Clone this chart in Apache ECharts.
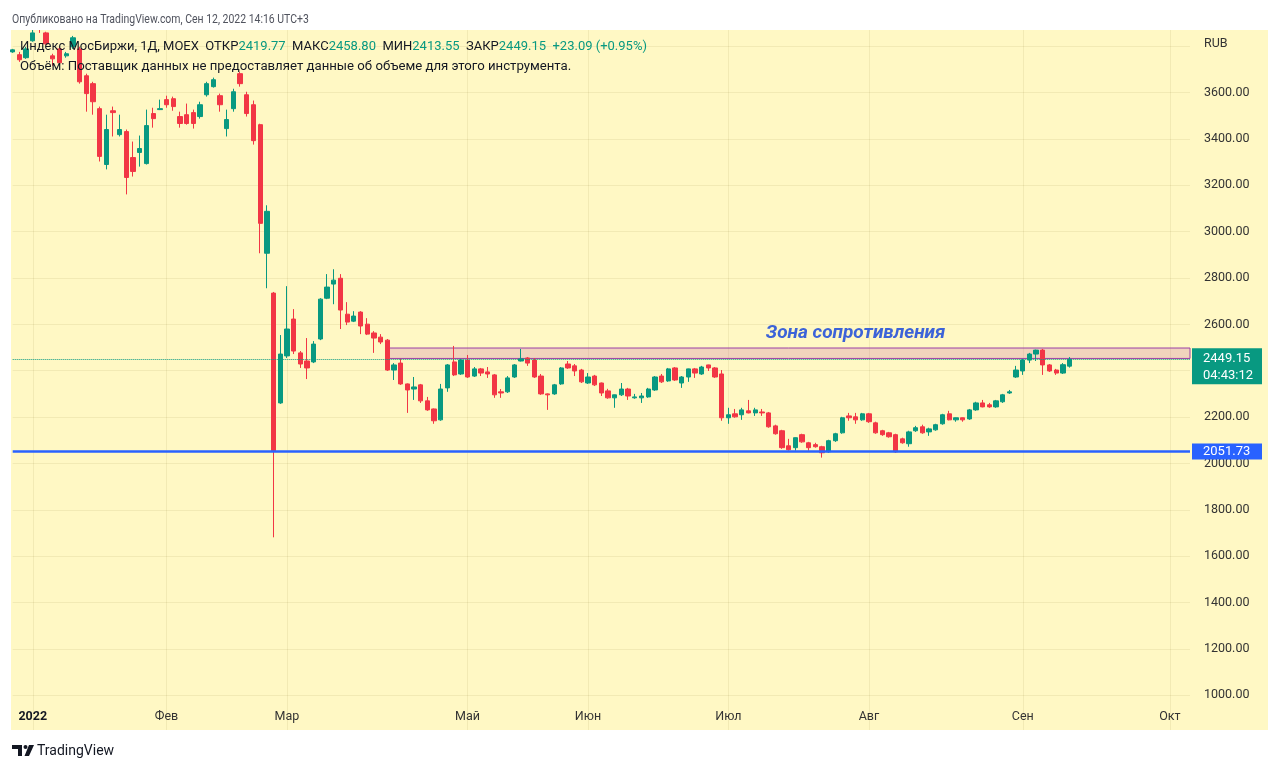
<!DOCTYPE html>
<html><head><meta charset="utf-8">
<script src="https://cdn.jsdelivr.net/npm/echarts@6/dist/echarts.min.js"></script>
<style>html,body{margin:0;padding:0;background:#fff}#c{width:1280px;height:770px}</style>
</head><body><div id="c"></div>
<script>
// ---- trading days (category axis) ----
const dec21 = [28,29,30];
const jan22 = [3,4,5,6,10,11,12,13,14,17,18,19,20,21,24,25,26,27,28,31];
const feb22 = [1,2,3,4,7,8,9,10,11,14,15,16,17,18,21,22,24,25];
const mar22 = [24,25,28,29,30,31];
const apr22 = [1,4,5,6,7,8,11,12,13,14,15,18,19,20,21,22,25,26,27,28,29];
const may22 = [4,5,6,11,12,13,16,17,18,19,20,23,24,25,26,27,30,31];
const jun22 = [1,2,3,6,7,8,9,10,14,15,16,17,20,21,22,23,24,27,28,29,30];
const jul22 = [1,4,5,6,7,8,11,12,13,14,15,18,19,20,21,22,25,26,27,28,29];
const aug22 = [1,2,3,4,5,8,9,10,11,12,15,16,17,18,19,22,23,24,25,26,29,30,31];
const sep22 = [1,2,5,6,7,8,9,12,13,14,15,16,19,20,21,22,23,26,27,28,29,30];
const oct22 = [3,4,5,6];

// ---- x tick labels ----
const tickDates = ['2022-01-03','2022-02-01','2022-03-24','2022-05-04','2022-06-01','2022-07-01','2022-08-01','2022-09-01','2022-10-03'];
const tickLabels = ['2022','Фев','Мар','Май','Июн','Июл','Авг','Сен','Окт'];

// ---- OHLC: [open, close, low, high] ----
const ohlc = [
[3776,3785,3772,3789],[3764,3742,3733,3776],[3751,3789,3746,3798],[3824,3858,3820,3875],[3905,3880,3858,3920],
[3858,3811,3807,3863],[3759,3746,3716,3768],[3789,3729,3721,3798],[3759,3768,3751,3776],[3798,3837,3789,3845],
[3789,3647,3639,3798],[3673,3596,3518,3682],[3639,3561,3505,3647],[3531,3325,3303,3540],[3290,3441,3269,3505],
[3522,3514,3411,3540],[3419,3441,3411,3505],[3432,3234,3161,3441],[3320,3260,3238,3389],[3342,3359,3281,3415],
[3294,3458,3290,3527],[3510,3488,3449,3535],[3527,3531,3525,3570],[3570,3548,3535,3587],[3574,3540,3522,3583],
[3497,3467,3449,3518],[3505,3467,3462,3553],[3514,3467,3445,3527],[3497,3548,3488,3561],[3591,3639,3583,3647],
[3626,3656,3622,3665],[3587,3548,3518,3596],[3445,3484,3411,3527],[3531,3604,3518,3617],[3682,3639,3626,3690],
[3591,3510,3497,3604],[3548,3393,3376,3566],[3462,3036,2907,3466],[2907,3088,2756,3114],[2735,2055,1681,2740],
[2261,2472,2257,2554],[2464,2580,2455,2765],[2623,2485,2472,2666],[2477,2429,2412,2485],[2442,2412,2364,2541],
[2438,2515,2433,2528],[2537,2709,2532,2713],[2713,2761,2709,2817],[2774,2791,2687,2838],[2799,2662,2580,2817],
[2644,2610,2597,2696],[2614,2636,2610,2657],[2653,2593,2558,2657],[2601,2558,2554,2627],[2563,2541,2477,2571],
[2545,2524,2515,2558],[2532,2403,2399,2537],[2403,2425,2360,2433],[2433,2343,2339,2451],[2343,2317,2218,2345],
[2321,2330,2274,2373],[2339,2270,2261,2343],[2270,2231,2227,2287],[2235,2184,2171,2237],[2188,2321,2184,2343],
[2326,2425,2309,2429],[2438,2382,2377,2507],[2386,2446,2382,2451],[2446,2373,2369,2468],[2377,2408,2373,2416],
[2408,2390,2377,2412],[2395,2386,2369,2416],[2382,2296,2283,2386],[2309,2304,2283,2321],[2309,2369,2304,2377],
[2373,2425,2369,2429],[2442,2451,2440,2494],[2455,2433,2421,2459],[2446,2373,2369,2455],[2377,2300,2296,2386],
[2300,2296,2231,2302],[2300,2339,2296,2343],[2343,2412,2339,2416],[2429,2412,2408,2442],[2421,2399,2377,2429],
[2403,2352,2347,2408],[2347,2373,2343,2390],[2377,2339,2334,2382],[2347,2304,2291,2349],[2313,2283,2279,2322],
[2283,2296,2240,2297],[2296,2321,2291,2347],[2321,2291,2274,2326],[2283,2287,2279,2300],[2283,2291,2261,2304],
[2287,2321,2283,2326],[2317,2373,2313,2377],[2377,2352,2347,2386],[2356,2408,2352,2412],[2412,2360,2356,2416],
[2347,2373,2326,2377],[2373,2408,2352,2409],[2408,2390,2369,2412],[2386,2416,2382,2421],[2425,2412,2399,2426],
[2412,2373,2369,2416],[2386,2197,2184,2403],[2197,2210,2171,2240],[2214,2201,2197,2235],[2210,2231,2188,2240],
[2227,2218,2216,2274],[2218,2231,2205,2240],[2222,2218,2205,2235],[2218,2158,2154,2222],[2162,2128,2124,2167],
[2141,2068,2063,2145],[2076,2059,2055,2106],[2068,2111,2055,2112],[2124,2093,2089,2128],[2089,2068,2055,2093],
[2081,2072,2068,2089],[2072,2046,2025,2076],[2050,2098,2046,2102],[2098,2128,2093,2132],[2132,2197,2128,2201],
[2205,2197,2184,2218],[2201,2188,2171,2218],[2188,2214,2184,2218],[2214,2180,2175,2218],[2175,2132,2128,2180],
[2141,2124,2119,2145],[2132,2115,2111,2136],[2124,2050,2046,2128],[2106,2089,2085,2111],[2085,2136,2072,2141],
[2141,2154,2136,2162],[2158,2132,2128,2167],[2136,2149,2119,2154],[2145,2167,2141,2171],[2171,2210,2167,2214],
[2214,2188,2186,2227],[2188,2197,2180,2198],[2197,2188,2180,2198],[2192,2231,2188,2235],[2231,2261,2227,2266],
[2261,2244,2242,2274],[2253,2244,2240,2261],[2244,2270,2240,2274],[2266,2296,2261,2300],[2304,2309,2300,2317],
[2373,2403,2369,2421],[2399,2446,2382,2451],[2446,2472,2433,2477],[2472,2489,2442,2491],[2489,2425,2382,2494],
[2425,2399,2395,2429],[2403,2390,2382,2408],[2390,2426.06,2386,2433],[2419.77,2449.15,2413.55,2458.80]
];

// ---- levels ----
const supportLevel = 2051.73;
const zoneLow = 2453, zoneHigh = 2498;
const zoneStartDate = '2022-04-14';
const zoneTextDate = '2022-07-28', zoneTextValue = 2562;
const zoneText = 'Зона сопротивления';
const lastBar = ohlc[ohlc.length - 1];
const countdown = '04:43:12';

const monthList = [['2021-12',dec21],['2022-01',jan22],['2022-02',feb22],['2022-03',mar22],['2022-04',apr22],['2022-05',may22],['2022-06',jun22],['2022-07',jul22],['2022-08',aug22],['2022-09',sep22],['2022-10',oct22]];
const dates = [];
monthList.forEach(([m, days]) => days.forEach(d => dates.push(m + '-' + String(d).padStart(2, '0'))));

const UP = '#089981', DOWN = '#f23645', BG = '#fff8c4', GRIDC = 'rgba(90,80,0,0.08)';
const FONT = 'Roboto, "Noto Sans", sans-serif';
const isTick = (i, v) => tickDates.indexOf(v) >= 0;

const chart = echarts.init(document.getElementById('c'), null, {renderer: 'canvas'});

const baseGraphic = [
  {id:'panel', type:'rect', z:-10, shape:{x:11, y:30, width:1257, height:700}, style:{fill:BG}},
  {id:'topcover', type:'rect', z:100, shape:{x:0, y:0, width:1280, height:30}, style:{fill:'#ffffff'}},
  {id:'botcover', type:'rect', z:100, shape:{x:0, y:730, width:1280, height:40}, style:{fill:'#ffffff'}},
  {id:'hdr', type:'text', z:101, x:12, y:20, scaleX:0.775, style:{text:'Опубликовано на TradingView.com, Сен 12, 2022 14:16 UTC+3', fill:'#50535e', font:'13.5px ' + FONT, verticalAlign:'middle'}},
  {id:'legend1', type:'text', z:60, x:20, y:47, style:{
    text:'{t|Индекс МосБиржи, 1Д, MOEX  ОТКР}{v|2419.77}{t|  МАКС}{v|2458.80}{t|  МИН}{v|2413.55}{t|  ЗАКР}{v|2449.15}{v|  +23.09 (+0.95%)}',
    verticalAlign:'middle', font:'13px ' + FONT,
    rich:{t:{fill:'#131722', font:'13px ' + FONT}, v:{fill:UP, font:'13px ' + FONT}}}},
  {id:'legend2', type:'text', z:60, x:20, y:67, style:{text:'Объём: Поставщик данных не предоставляет данные об объеме для этого инструмента.', fill:'#131722', font:'13.2px ' + FONT, verticalAlign:'middle'}},
  {id:'rub', type:'text', z:60, x:1204, y:44, style:{text:'RUB', fill:'#333', font:'12.5px ' + FONT, verticalAlign:'middle'}},
  {id:'logo1', type:'polygon', z:101, shape:{points:[[12,745],[22,745],[22,756],[18,756],[18,749],[12,749]]}, style:{fill:'#131722'}},
  {id:'logo2', type:'circle', z:101, shape:{cx:25.5, cy:747, r:2}, style:{fill:'#131722'}},
  {id:'logo3', type:'polygon', z:101, shape:{points:[[29,745],[34,745],[29,756],[24.5,756]]}, style:{fill:'#131722'}},
  {id:'logotxt', type:'text', z:101, x:37, y:751, style:{text:'TradingView', fill:'#131722', font:'14px ' + FONT, verticalAlign:'middle'}}
];

const option = {
  backgroundColor: '#ffffff',
  animation: false,
  grid: {left: 12.7, right: 90, top: -1.93, bottom: 28.54, containLabel: false},
  xAxis: {
    type: 'category', data: dates, boundaryGap: false, offset: -39.5,
    axisLine: {show: false}, axisTick: {show: false},
    axisLabel: {interval: isTick, margin: 8, color: '#333', fontSize: 12.5, fontFamily: FONT,
      formatter: (v) => { const k = tickDates.indexOf(v); if (k < 0) return ''; return k === 0 ? '{b|' + tickLabels[k] + '}' : tickLabels[k]; },
      rich: {b: {fontWeight: 'bold', color: '#131722', fontSize: 12.5, fontFamily: FONT}}},
    splitLine: {show: true, interval: isTick, lineStyle: {color: GRIDC, width: 1}}
  },
  yAxis: {
    type: 'value', position: 'right', min: 800, max: 4000, interval: 200, scale: false,
    axisLine: {show: false}, axisTick: {show: false},
    axisLabel: {margin: 14, color: '#333', fontSize: 12.5, fontFamily: FONT,
      formatter: (v) => (v >= 3800 || v < 1000 || v === 2400) ? '' : v.toFixed(2)},
    splitLine: {show: true, lineStyle: {color: GRIDC, width: 1}}
  },
  series: [{
    type: 'candlestick', data: ohlc, barWidth: 4.8, clip: true,
    itemStyle: {color: UP, color0: DOWN, borderColor: UP, borderColor0: DOWN, borderWidth: 1},
    markArea: {silent: true,
      itemStyle: {color: 'rgba(205,115,170,0.27)', borderColor: '#9b3fa6', borderWidth: 1},
      data: [[{xAxis: zoneStartDate, yAxis: zoneLow}, {xAxis: dates[dates.length - 1], yAxis: zoneHigh}]]},
    markLine: {silent: true, symbol: ['none', 'none'], animation: false,
      data: [
        {yAxis: lastBar[1], lineStyle: {color: UP, type: 'dotted', width: 1}, label: {show: false}},
        {yAxis: supportLevel, lineStyle: {color: '#2962ff', type: 'solid', width: 2.6},
          label: {show: true, position: 'end', distance: 2, formatter: supportLevel.toFixed(2), color: '#fff',
            backgroundColor: '#2962ff', fontSize: 13, fontFamily: FONT, padding: [2, 9, 1, 11], width: 50}}
      ]},
    markPoint: {silent: true, symbol: 'circle', symbolSize: 0,
      data: [{coord: [zoneTextDate, zoneTextValue], value: zoneText}],
      label: {show: true, position: 'inside', formatter: zoneText, color: '#3c63d8', fontSize: 19,
        fontStyle: 'italic', fontWeight: 'bold', fontFamily: FONT}}
  }],
  graphic: {elements: baseGraphic}
};
chart.setOption(option);

// price label box, positioned through the axes' own scales
const py = chart.convertToPixel({yAxisIndex: 0}, lastBar[1]);
const px = chart.convertToPixel({xAxisIndex: 0}, dates[dates.length - 1]);
chart.setOption({graphic: {elements: [
  {id:'pbox', type:'rect', z:70, shape:{x:px + 2, y:py - 11, width:70, height:36}, style:{fill:UP}},
  {id:'ptxt1', type:'text', z:71, x:px + 13, y:py - 1, style:{text:lastBar[1].toFixed(2), fill:'#fff', font:'13px ' + FONT, verticalAlign:'middle'}},
  {id:'ptxt2', type:'text', z:71, x:px + 13, y:py + 16, style:{text:countdown, fill:'#fff', font:'13px ' + FONT, verticalAlign:'middle'}}
]}});
</script></body></html>
